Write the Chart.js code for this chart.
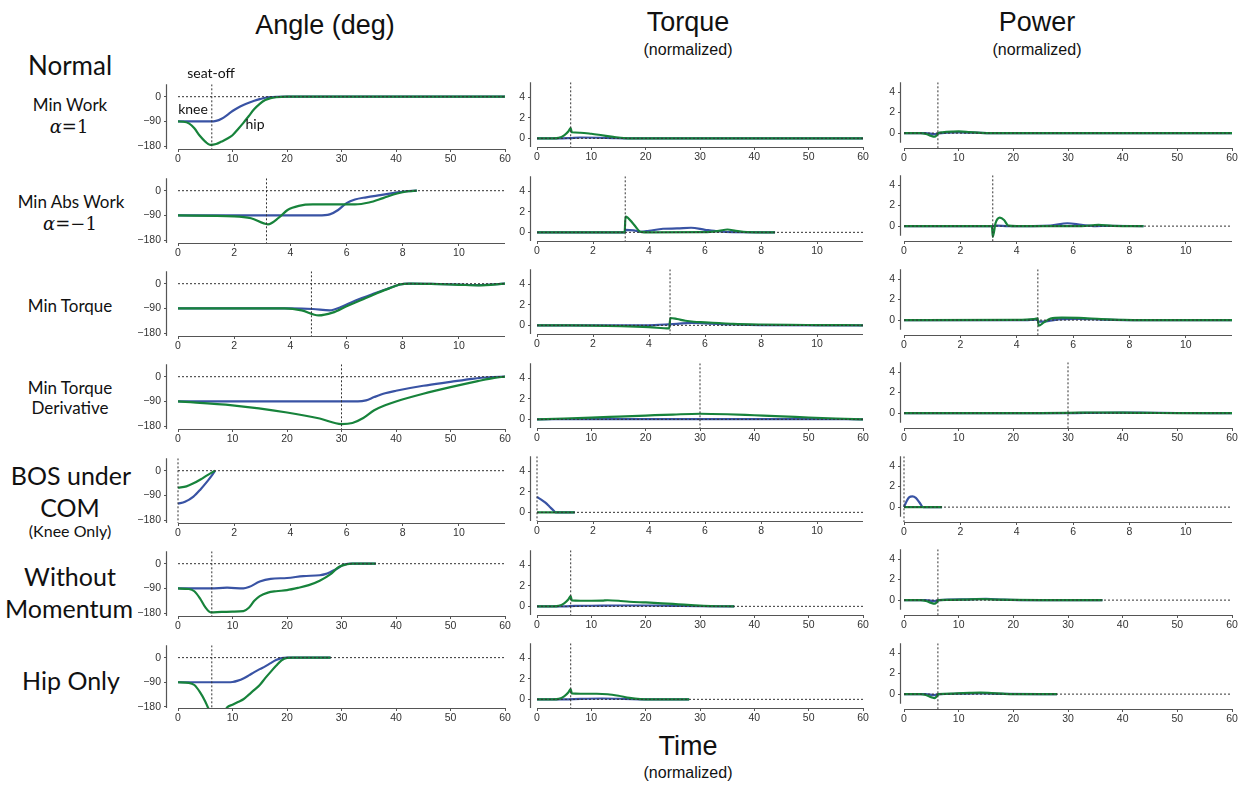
<!DOCTYPE html>
<html>
<head>
<meta charset="utf-8">
<title>Sit-to-stand strategies</title>
<script src="https://cdn.jsdelivr.net/npm/chart.js@4.4.1/dist/chart.umd.min.js"></script>
<style>
  html, body { margin: 0; padding: 0; background: #fff; }
  #page { position: relative; width: 1257px; height: 787px; overflow: hidden;
          font-family: "Liberation Sans", Arial, sans-serif; color: #111; }
  .panel { position: absolute; }
  .lbl { position: absolute; transform: translate(-50%, -50%); white-space: nowrap; }
  .big { font-size: 27px; }
  .sub { font-size: 16px; }
  .row { font-family: Lato, "Open Sans", sans-serif; }
  .math { font-family: "DejaVu Serif", "Liberation Serif", serif; font-size: 18px; }
  .note { font-family: Lato, "Open Sans", sans-serif; font-size: 14px; }
</style>
</head>
<body>
<div id="page">
  <!-- column headers -->
  <div class="lbl big" style="left:325px; top:25px;">Angle (deg)</div>
  <div class="lbl big" style="left:688px; top:22px;">Torque</div>
  <div class="lbl sub" style="left:688px; top:50px;">(normalized)</div>
  <div class="lbl big" style="left:1037px; top:22px;">Power</div>
  <div class="lbl sub" style="left:1037px; top:50px;">(normalized)</div>
  <div class="lbl big" style="left:688px; top:746px;">Time</div>
  <div class="lbl sub" style="left:688px; top:773px;">(normalized)</div>

  <!-- row labels -->
  <div class="lbl row" style="left:70px; top:65px; font-size:26px;">Normal</div>
  <div class="lbl row" style="left:70px; top:104px; font-size:17px;">Min Work</div>
  <div class="lbl math" style="left:69px; top:126px;"><i>α</i>=1</div>
  <div class="lbl row" style="left:71px; top:201px; font-size:17px;">Min Abs Work</div>
  <div class="lbl math" style="left:70px; top:223px;"><i>α</i>=−1</div>
  <div class="lbl row" style="left:70px; top:305px; font-size:17px;">Min Torque</div>
  <div class="lbl row" style="left:70px; top:387px; font-size:17px;">Min Torque</div>
  <div class="lbl row" style="left:70px; top:407px; font-size:17px;">Derivative</div>
  <div class="lbl row" style="left:71px; top:475px; font-size:25px;">BOS under</div>
  <div class="lbl row" style="left:70px; top:507px; font-size:25px;">COM</div>
  <div class="lbl row" style="left:70px; top:530px; font-size:16px;">(Knee Only)</div>
  <div class="lbl row" style="left:70px; top:576px; font-size:25px;">Without</div>
  <div class="lbl row" style="left:69px; top:608px; font-size:25px;">Momentum</div>
  <div class="lbl row" style="left:71px; top:680px; font-size:25px;">Hip Only</div>
</div>

<script>
// joint colours
const kneeColor = '#3953a4';
const hipColor = '#17833b';

// axis ticks
const timeTicksLong = [0, 10, 20, 30, 40, 50, 60];
const timeTicksShort = [0, 2, 4, 6, 8, 10];
const angleTicks = [0, -90, -180];
const effortTicks = [0, 2, 4];

// per strategy: time span of the axis, seat-off time
const timeSpan = [60, 11.64, 11.64, 60, 11.64, 60, 60];
const seatOff = [6.2, 3.15, 4.75, 30, 0, 6.2, 6.2];

// ---- Min Work (alpha = 1)
const minWorkAngleKnee = [[0,-90],[6,-90],[7,-88],[8,-80],[9,-67],[10,-52],[11,-40],[12,-30],[13,-22],[14,-15],[15,-9],[16,-4],[17,-1.5],[18,-0.5],[20,0],[60,0]];
const minWorkAngleHip = [[0,-90],[1,-91],[2,-97],[3,-115],[4,-142],[5,-163],[5.9,-175],[7,-172],[8,-163],[9,-153],[10,-140],[11,-118],[12,-95],[13,-70],[14,-45],[15,-26],[16,-12],[17,-5],[18,-2],[20,0],[60,0]];
const minWorkTorqueKnee = [[0,0],[4,0],[6,0.03],[8,0.08],[11,0.06],[14,0.02],[16,0],[60,0]];
const minWorkTorqueHip = [[0,0],[3,0],[4,0.05],[5,0.3],[5.8,0.7],[6.2,1.0],[6.4,0.6],[8,0.55],[10,0.45],[12,0.3],[14,0.15],[16,0.02],[18,0],[60,0]];
const minWorkPowerKnee = [[0,0],[4,0],[5.5,-0.1],[6.2,-0.05],[8,0.05],[10,0.08],[13,0.04],[16,0],[60,0]];
const minWorkPowerHip = [[0,0],[3,0],[4,-0.08],[5,-0.28],[5.6,-0.35],[6,-0.2],[6.3,0],[7,0.08],[9,0.15],[10,0.16],[12,0.1],[14,0.03],[16,0],[60,0]];

// ---- Min Abs Work (alpha = -1)
const minAbsWorkAngleKnee = [[0,-90],[5,-90],[5.4,-86],[5.7,-70],[6,-45],[6.3,-32],[6.7,-24],[7.2,-16],[7.7,-8],[8.1,-2],[8.5,0]];
const minAbsWorkAngleHip = [[0,-90],[2,-93],[2.6,-100],[3.2,-122],[3.6,-97],[3.9,-70],[4.3,-55],[4.8,-50],[6.3,-50],[6.8,-43],[7.3,-27],[7.8,-10],[8.2,-2],[8.5,0]];
const minAbsWorkTorqueKnee = [[0,0],[3.13,0],[3.16,0.25],[3.45,0.2],[3.7,0.05],[4,0.15],[4.5,0.35],[5,0.38],[5.5,0.45],[6,0.25],[6.5,0.08],[7,0.02],[8.5,0]];
const minAbsWorkTorqueHip = [[0,0],[3.13,0],[3.16,1.55],[3.45,0.8],[3.7,0.05],[4,0],[6,0.02],[6.5,0.15],[6.8,0.28],[7.1,0.15],[7.5,0.03],[8.5,0]];
const minAbsWorkPowerKnee = [[0,0],[3.15,0],[3.3,0.05],[3.7,0],[5.2,0.05],[5.8,0.28],[6.3,0.12],[6.8,0],[7.2,0.03],[8.5,0]];
const minAbsWorkPowerHip = [[0,0],[3.12,0],[3.15,-1.05],[3.25,0.3],[3.4,0.82],[3.55,0.6],[3.7,0.05],[4,0],[6.3,0],[6.9,0.12],[7.4,0.02],[8.5,0]];

// ---- Min Torque
const minTorqueAngleKnee = [[0,-90],[4,-90],[4.8,-92],[5.4,-97],[5.8,-85],[6.3,-62],[7,-35],[7.5,-17],[7.9,-3],[8.2,0],[9,-1],[10,-3],[10.7,-5],[11.64,0]];
const minTorqueAngleHip = [[0,-90],[3.8,-90],[4.4,-97],[5,-115],[5.5,-105],[6,-82],[6.5,-60],[7,-38],[7.5,-18],[7.9,-3],[8.3,0],[9,-1],[10,-4],[10.7,-6],[11.64,0]];
const minTorqueTorqueKnee = [[0,0],[3,0],[4.2,0.03],[4.7,0.1],[5,0.15],[5.5,0.25],[6,0.2],[7,0.08],[8,0.02],[11.64,0]];
const minTorqueTorqueHip = [[0,0],[1,-0.01],[2,-0.03],[3,-0.08],[4,-0.18],[4.72,-0.3],[4.76,0.72],[5,0.62],[5.3,0.45],[5.6,0.35],[6,0.3],[6.5,0.22],[7,0.15],[8,0.08],[9,0.04],[10,0.03],[11,0.02],[11.64,0]];
const minTorquePowerKnee = [[0,0],[4.3,0],[4.7,0.05],[4.8,-0.15],[5.1,-0.1],[5.6,0.1],[6.2,0.12],[7,0.05],[8,0],[11.64,0]];
const minTorquePowerHip = [[0,0],[4,0.02],[4.6,0.1],[4.74,0.18],[4.78,-0.55],[4.95,-0.25],[5.2,0.15],[5.6,0.25],[6.2,0.22],[7,0.1],[7.8,0.02],[8.5,0],[11.64,0]];

// ---- Min Torque Derivative
const minTorqueDerivAngleKnee = [[0,-90],[33,-90],[34.5,-86],[36,-74],[38,-60],[40,-51],[45,-33],[50,-19],[54,-8],[57,-2],[60,0]];
const minTorqueDerivAngleHip = [[0,-90],[10,-104],[20,-130],[26,-152],[30,-172],[32,-168],[34,-150],[36,-122],[38,-104],[40,-90],[45,-62],[50,-38],[55,-16],[58,-4],[60,0]];
const minTorqueDerivTorqueKnee = [[0,0],[10,0.02],[20,0.03],[30,0.03],[40,0.03],[50,0.02],[60,0]];
const minTorqueDerivTorqueHip = [[0,0],[5,0.08],[10,0.17],[15,0.27],[20,0.37],[25,0.47],[30,0.55],[35,0.5],[40,0.4],[45,0.3],[50,0.18],[55,0.08],[60,0]];
const minTorqueDerivPowerKnee = [[0,0],[30,0],[35,0.03],[40,0.05],[45,0.03],[50,0.01],[60,0]];
const minTorqueDerivPowerHip = [[0,0],[25,0],[30,0.02],[35,0.06],[40,0.04],[45,0.02],[50,0],[60,0]];

// ---- BOS under COM (knee only)
const bosAngleKnee = [[0,-120],[0.25,-113],[0.55,-94],[0.8,-68],[1.05,-38],[1.2,-18],[1.32,0]];
const bosAngleHip = [[0,-62],[0.3,-57],[0.55,-46],[0.8,-32],[1.05,-16],[1.32,0]];
const bosTorqueKnee = [[0,1.5],[0.15,1.25],[0.3,0.95],[0.45,0.55],[0.6,0.15],[0.66,0],[1.35,0]];
const bosTorqueHip = [[0,0],[1.35,0]];
const bosPowerKnee = [[0,0],[0.08,0.5],[0.18,0.95],[0.3,1.05],[0.42,0.9],[0.55,0.45],[0.68,0],[1.35,0]];
const bosPowerHip = [[0,0],[1.35,0]];

// ---- Without Momentum
const noMomentumAngleKnee = [[0,-90],[6,-90],[9,-87],[12,-90],[13,-85],[15,-65],[17,-55],[20,-52],[23,-45],[26,-42],[27,-38],[29,-20],[30.5,-3],[32,0],[36.3,0]];
const noMomentumAngleHip = [[0,-90],[2,-92],[3,-100],[4,-125],[5,-158],[6,-177],[8,-175],[10,-174],[12,-172],[13,-160],[14,-135],[15,-118],[16.5,-105],[18,-100],[20,-96],[22,-88],[24,-78],[26,-62],[28,-38],[29.5,-12],[31,-2],[32,0],[36.3,0]];
const noMomentumTorqueKnee = [[0,0],[5,0],[7,0.05],[10,0.06],[15,0.08],[20,0.08],[25,0.05],[30,0.02],[36.3,0]];
const noMomentumTorqueHip = [[0,0],[3,0],[4,0.05],[5,0.3],[5.8,0.7],[6.2,1.0],[6.4,0.58],[8,0.55],[10,0.55],[12,0.56],[13,0.6],[15,0.55],[17,0.45],[20,0.38],[23,0.3],[26,0.2],[29,0.1],[32,0.03],[36.3,0]];
const noMomentumPowerKnee = [[0,0],[4,0],[5.5,-0.1],[6.5,0],[12,0.08],[15,0.12],[18,0.05],[22,0],[36.3,0]];
const noMomentumPowerHip = [[0,0],[3,0],[4,-0.08],[5,-0.28],[5.6,-0.35],[6,-0.2],[6.3,0],[8,0.02],[11,0.05],[14,0.1],[17,0.05],[20,0.02],[25,0],[36.3,0]];

// ---- Hip Only
const hipOnlyAngleKnee = [[0,-90],[9,-90],[10,-89],[11,-84],[12,-76],[13,-65],[14,-53],[15,-42],[16,-32],[17,-20],[18,-9],[19,-2],[20,0],[28,0]];
const hipOnlyAngleHip = [[0,-90],[2,-92],[3,-100],[4,-125],[5,-160],[5.5,-182],[6.5,-215],[7.5,-225],[8.5,-200],[9,-182],[10,-172],[11,-162],[12,-152],[13,-135],[14,-118],[15,-100],[16,-75],[17,-52],[18,-30],[19,-10],[20,-1],[21,0],[28,0]];
const hipOnlyTorqueKnee = [[0,0],[5,0],[8,0.05],[12,0.08],[16,0.05],[20,0],[28,0]];
const hipOnlyTorqueHip = [[0,0],[3,0],[4,0.05],[5,0.3],[5.8,0.7],[6.2,1.0],[6.4,0.58],[8,0.55],[11,0.55],[13,0.5],[15,0.35],[17,0.15],[19,0.03],[21,0],[28,0]];
const hipOnlyPowerKnee = [[0,0],[4,0],[5.5,-0.1],[6.5,0],[10,0.04],[14,0.06],[18,0.02],[28,0]];
const hipOnlyPowerHip = [[0,0],[3,0],[4,-0.08],[5,-0.3],[5.6,-0.4],[6,-0.22],[6.3,0],[9,0.05],[12,0.12],[14,0.15],[16,0.1],[18,0.04],[20,0],[28,0]];

// rows x columns -> [knee, hip]
const panelData = [
  [[minWorkAngleKnee, minWorkAngleHip], [minWorkTorqueKnee, minWorkTorqueHip], [minWorkPowerKnee, minWorkPowerHip]],
  [[minAbsWorkAngleKnee, minAbsWorkAngleHip], [minAbsWorkTorqueKnee, minAbsWorkTorqueHip], [minAbsWorkPowerKnee, minAbsWorkPowerHip]],
  [[minTorqueAngleKnee, minTorqueAngleHip], [minTorqueTorqueKnee, minTorqueTorqueHip], [minTorquePowerKnee, minTorquePowerHip]],
  [[minTorqueDerivAngleKnee, minTorqueDerivAngleHip], [minTorqueDerivTorqueKnee, minTorqueDerivTorqueHip], [minTorqueDerivPowerKnee, minTorqueDerivPowerHip]],
  [[bosAngleKnee, bosAngleHip], [bosTorqueKnee, bosTorqueHip], [bosPowerKnee, bosPowerHip]],
  [[noMomentumAngleKnee, noMomentumAngleHip], [noMomentumTorqueKnee, noMomentumTorqueHip], [noMomentumPowerKnee, noMomentumPowerHip]],
  [[hipOnlyAngleKnee, hipOnlyAngleHip], [hipOnlyTorqueKnee, hipOnlyTorqueHip], [hipOnlyPowerKnee, hipOnlyPowerHip]]
];

// panel geometry (page pixels)
const ROW_STEP = 93.43;
const Y_W = 40, X_H = 22, PAD_T = 3, PAD_R = 8;
const columns = [
  { axisX: 167, zeroX: 178, endX: 505, zeroY: 91.7, scale: 0.3, yMax: 45, yMin: -190, yLineMin: -190, ticks: angleTicks },
  { axisX: 531, zeroX: 537, endX: 863, zeroY: 138.3, scale: 11.25, yMax: 5.5, yMin: -0.85, yLineMin: -0.85, ticks: effortTicks },
  { axisX: 901, zeroX: 904, endX: 1232, zeroY: 131.7, scale: 11.25, yMax: 4.95, yMin: -1.45, yLineMin: -0.95, ticks: effortTicks }
];

// R-style detached axis lines
const rAxes = {
  id: 'rAxes',
  afterDraw(chart, args, opts) {
    const { ctx, chartArea, scales } = chart;
    ctx.save();
    ctx.strokeStyle = '#555';
    ctx.lineWidth = 1.2;
    ctx.beginPath();
    const yb = Math.round(chartArea.bottom) + 0.5;
    ctx.moveTo(scales.x.getPixelForValue(0), yb);
    ctx.lineTo(chartArea.right, yb);
    const xl = Math.round(chartArea.left) - 0.5;
    ctx.moveTo(xl, chartArea.top);
    ctx.lineTo(xl, scales.y.getPixelForValue(opts.yLineMin));
    ctx.stroke();
    ctx.restore();
  }
};

const tickFont = { family: '"Liberation Sans", Arial, sans-serif', size: 10.5 };
const page = document.getElementById('page');

function makePanel(r, c) {
  const col = columns[c];
  const span = timeSpan[r];
  const pxPerX = (col.endX - col.zeroX) / span;
  const xMin = -(col.zeroX - col.axisX) / pxPerX;
  const yMin = (c === 0 && r === 6) ? -184 : col.yMin;
  const plotH = (col.yMax - yMin) * col.scale;
  const left = col.axisX - Y_W;
  const top = col.zeroY + r * ROW_STEP - col.yMax * col.scale - PAD_T;
  const W = Math.round(Y_W + (col.endX - col.axisX) + PAD_R);
  const H = Math.round(PAD_T + plotH + X_H);

  const canvas = document.createElement('canvas');
  canvas.className = 'panel';
  canvas.width = W;
  canvas.height = H;
  canvas.style.left = left + 'px';
  canvas.style.top = top + 'px';
  canvas.style.width = W + 'px';
  canvas.style.height = H + 'px';
  page.appendChild(canvas);

  const xTicks = span > 20 ? timeTicksLong : timeTicksShort;
  const [knee, hip] = panelData[r][c];
  const refStyle = { borderColor: '#333', borderWidth: 1, borderDash: [2, 2], pointRadius: 0, tension: 0, order: 0 };

  new Chart(canvas, {
    type: 'line',
    data: {
      datasets: [
        Object.assign({ data: [[0, 0], [span, 0]] }, refStyle),
        Object.assign({ data: [[seatOff[r], col.yMax], [seatOff[r], yMin]] }, refStyle),
        { data: hip, borderColor: hipColor, borderWidth: 2.2, pointRadius: 0, cubicInterpolationMode: 'monotone', order: 1 },
        { data: knee, borderColor: kneeColor, borderWidth: 2.2, pointRadius: 0, cubicInterpolationMode: 'monotone', order: 2 }
      ]
    },
    options: {
      responsive: false,
      animation: false,
      devicePixelRatio: 1,
      events: [],
      layout: { padding: { top: PAD_T, right: W - Y_W - (col.endX - col.axisX), left: 0, bottom: 0 } },
      plugins: { legend: { display: false }, tooltip: { enabled: false }, rAxes: { yLineMin: Math.max(col.yLineMin, yMin) } },
      scales: {
        x: {
          type: 'linear', min: xMin, max: span,
          afterFit: s => { s.height = X_H; },
          afterBuildTicks: s => { s.ticks = xTicks.map(v => ({ value: v })); },
          grid: { drawOnChartArea: false, drawTicks: true, tickLength: 3, color: '#555' },
          border: { display: false },
          ticks: { autoSkip: false, maxRotation: 0, padding: 1, color: '#333', font: tickFont, callback: v => String(v) }
        },
        y: {
          type: 'linear', min: yMin, max: col.yMax,
          afterFit: s => { s.width = Y_W; },
          afterBuildTicks: s => { s.ticks = col.ticks.map(v => ({ value: v })); },
          grid: { drawOnChartArea: false, drawTicks: true, tickLength: 3, color: '#555' },
          border: { display: false },
          ticks: { autoSkip: false, padding: 3, color: '#333', font: tickFont, callback: v => String(v).replace('-', '\u2212') }
        }
      }
    },
    plugins: [rAxes]
  });
}

for (let r = 0; r < panelData.length; r++) {
  for (let c = 0; c < columns.length; c++) makePanel(r, c);
}

// annotations on the first angle panel
[['seat-off', 211, 72], ['knee', 193, 108], ['hip', 255, 123]].forEach(([t, x, y]) => {
  const d = document.createElement('div');
  d.className = 'lbl note';
  d.style.left = x + 'px';
  d.style.top = y + 'px';
  d.textContent = t;
  page.appendChild(d);
});
</script>
</body>
</html>
